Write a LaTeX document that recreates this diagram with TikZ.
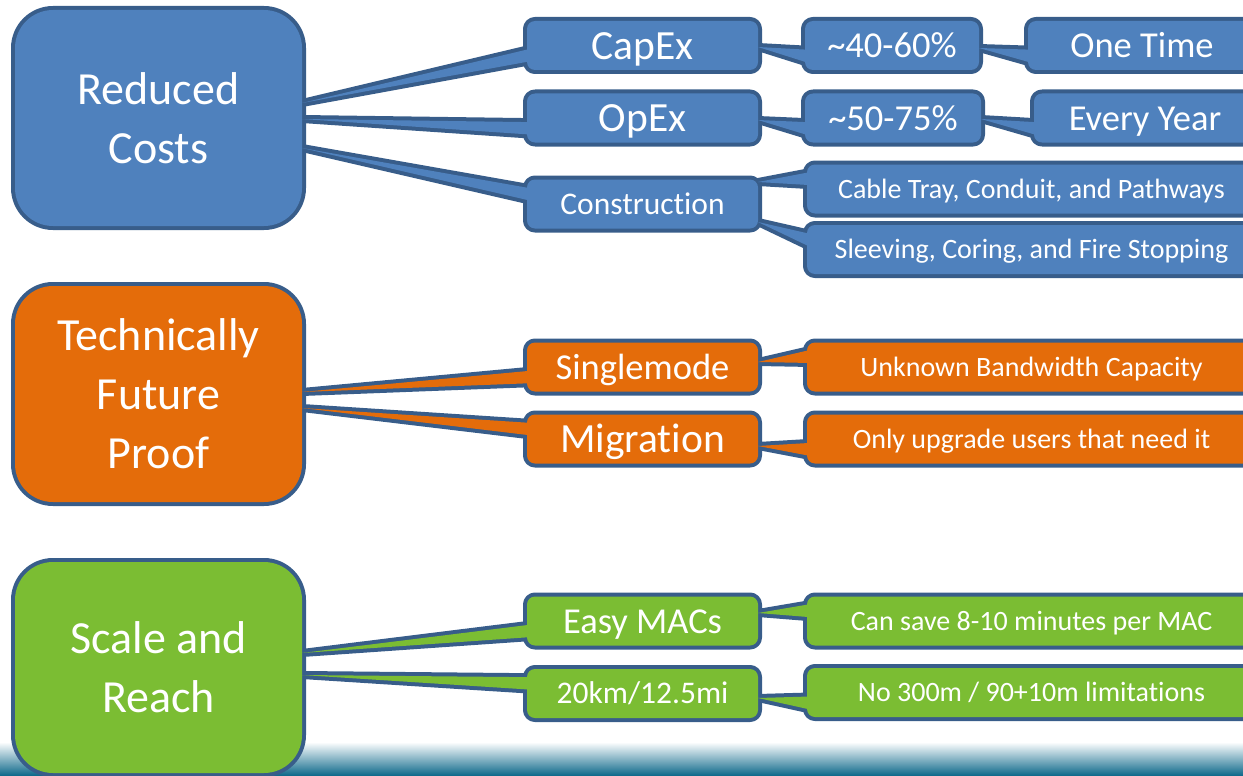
\documentclass[tikz,border=0pt]{standalone}
\usepackage{fontspec}
\setmainfont{Carlito}[RawFeature={-liga;-clig;-calt;-dlig;-rlig}]
\usetikzlibrary{calc,backgrounds}
\definecolor{rimblue}{HTML}{385D8A}
\definecolor{costblue}{HTML}{4F81BD}
\definecolor{proofora}{HTML}{E46C0A}
\definecolor{reachgrn}{HTML}{7BBD33}
\definecolor{seateal}{HTML}{0A6688}
\definecolor{seamid}{HTML}{4E93B2}
\newcommand{\tail}[5]{%
  \fill[#5] (#1) -- ($(#2.north west)!#3!(#2.south west)$)
    -- ($(#2.north west)!#4!(#2.south west)$) -- cycle;
  \begin{scope}[on background layer]
    \draw[rim] (#1) -- ($(#2.north west)!#3!(#2.south west)$)
      -- ($(#2.north west)!#4!(#2.south west)$) -- cycle;
  \end{scope}}
\tikzset{
  rim/.style={draw=rimblue,line width=8pt,line join=round},
  callbox/.style={inner sep=0pt,outer sep=0pt,text=white,rounded corners=8pt,minimum height=49pt,text depth=0pt},
  topic/.style={inner sep=0pt,outer sep=0pt,text=white,rounded corners=38pt,minimum width=287pt,minimum height=216pt,align=center,font=\fontsize{46}{59}\selectfont},
  lvltwo/.style={callbox,minimum width=231pt},
  lvlthree/.style={callbox,minimum width=449pt},
  sizeXL/.style={font=\fontsize{41.5}{50}\selectfont,text height=27.4pt},
  sizeL/.style={font=\fontsize{36.5}{44}\selectfont,text height=24.1pt},
  sizeM/.style={font=\fontsize{31.5}{38}\selectfont,text height=20.8pt},
  sizeS/.style={font=\fontsize{28}{34}\selectfont,text height=18.5pt}
}
\begin{document}
\begin{tikzpicture}[x=1pt,y=-1pt]
\useasboundingbox (0,0) rectangle (1243,776);
\begin{scope}[on background layer]
  \shade[top color=white,middle color=seamid,bottom color=seateal] (0,742) rectangle (1243,776);
\end{scope}

\node[topic,fill=costblue] (rc) at (158.5,118) {Reduced\\Costs};
\node[topic,fill=proofora] (tfp) at (158.5,394) {Technically\\Future\\Proof};
\node[topic,fill=reachgrn,minimum height=211pt] (sar) at (158.5,667.5) {Scale and\\Reach};

\node[lvltwo,sizeXL,fill=costblue] (capex) at (642.5,45.5) {CapEx};
\node[lvltwo,sizeXL,fill=costblue] (opex) at (642.5,118) {OpEx};
\node[lvltwo,sizeM,fill=costblue] (build) at (642.5,204) {Construction};
\node[lvltwo,sizeL,fill=proofora] (smf) at (642.5,367) {Singlemode};
\node[lvltwo,sizeXL,fill=proofora] (migr) at (642.5,439) {Migration};
\node[lvltwo,sizeL,fill=reachgrn] (macs) at (642.5,621) {Easy MACs};
\node[lvltwo,sizeM,fill=reachgrn] (reach) at (642.5,693.5) {20km/12.5mi};

\node[callbox,sizeL,minimum width=174pt,fill=costblue] (capsave) at (892,45.5) {\textasciitilde 40-60\%};
\node[callbox,sizeL,minimum width=176pt,fill=costblue] (opsave) at (893,118) {\textasciitilde 50-75\%};
\node[callbox,sizeL,minimum width=228pt,fill=costblue] (once) at (1142,45.5) {One Time};
\node[callbox,sizeL,minimum width=222pt,fill=costblue] (yearly) at (1145,118) {Every Year};
\node[lvlthree,sizeS,fill=costblue] (tray) at (1031.5,189) {Cable Tray, Conduit, and Pathways};
\node[lvlthree,sizeS,fill=costblue] (sleeve) at (1031.5,249.5) {Sleeving, Coring, and Fire Stopping};
\node[lvlthree,sizeS,fill=proofora] (bw) at (1031.5,367) {Unknown Bandwidth Capacity};
\node[lvlthree,sizeS,fill=proofora] (upg) at (1031.5,439) {Only upgrade users that need it};
\node[lvlthree,sizeS,fill=reachgrn] (mac) at (1031.5,621) {Can save 8-10 minutes per MAC};
\node[lvlthree,sizeS,fill=reachgrn] (lim) at (1031.5,692.5) {No 300m / 90+10m limitations};

\begin{scope}[on background layer]
  \foreach \n in {rc,tfp,sar}
    \draw[rim,rounded corners=38pt] (\n.south west) rectangle (\n.north east);
  \foreach \n in {capex,opex,build,smf,migr,macs,reach,capsave,opsave,once,yearly,tray,sleeve,bw,upg,mac,lim}
    \draw[rim,rounded corners=8pt] (\n.south west) rectangle (\n.north east);
\end{scope}

\tail{$(rc.east)+(0,-15)$}{capex}{7/12}{10/12}{costblue}
\tail{$(rc.east)+(0,1)$}{opex}{7/12}{10/12}{costblue}
\tail{$(rc.east)+(0,30)$}{build}{2/12}{5/12}{costblue}
\tail{$(capex.east)+(0,1.5)$}{capsave}{7/12}{10/12}{costblue}
\tail{$(capsave.east)+(0,2.5)$}{once}{7/12}{10/12}{costblue}
\tail{$(opex.east)+(0,2)$}{opsave}{7/12}{10/12}{costblue}
\tail{$(opsave.east)+(0,1)$}{yearly}{7/12}{10/12}{costblue}
\tail{$(build.east)+(0,-22)$}{tray}{2/12}{5/12}{costblue}
\tail{$(build.east)+(0,18)$}{sleeve}{2/12}{5/12}{costblue}
\tail{$(tfp.east)+(0,-2)$}{smf}{7/12}{10/12}{proofora}
\tail{$(tfp.east)+(0,14)$}{migr}{2/12}{5/12}{proofora}
\tail{$(smf.east)+(0,-5)$}{bw}{2/12}{5/12}{proofora}
\tail{$(migr.east)+(0,7)$}{upg}{7/12}{10/12}{proofora}
\tail{$(sar.east)+(0,-14.5)$}{macs}{7/12}{10/12}{reachgrn}
\tail{$(sar.east)+(0,7.5)$}{reach}{2/12}{5/12}{reachgrn}
\tail{$(macs.east)+(0,-8)$}{mac}{2/12}{5/12}{reachgrn}
\tail{$(reach.east)+(0,4.5)$}{lim}{7/12}{10/12}{reachgrn}
\end{tikzpicture}
\end{document}
